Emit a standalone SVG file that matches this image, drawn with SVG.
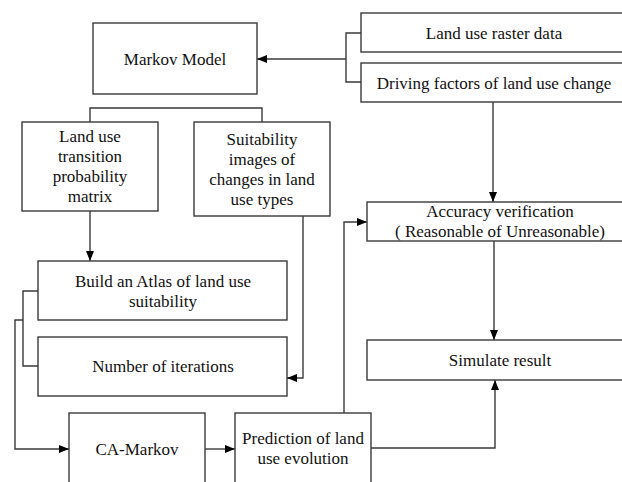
<svg xmlns="http://www.w3.org/2000/svg" width="622" height="482" viewBox="0 0 622 482" font-family="Liberation Serif, Times New Roman, DejaVu Serif, serif">
<style>
text{font-family:'Liberation Serif','Times New Roman','DejaVu Serif',serif;font-size:17px;fill:#111;text-anchor:middle}
.box{fill:#fff;stroke:#3a3a3a;stroke-width:1.4}
.c{fill:none;stroke:#3a3a3a;stroke-width:1.4}
</style>
<defs>
<marker id="ah" viewBox="0 0 10 8" refX="10" refY="4" markerWidth="10" markerHeight="8" markerUnits="userSpaceOnUse" orient="auto">
<path d="M0,0 L10,4 L0,8 Z" fill="#000"/>
</marker>
</defs>
<rect width="622" height="482" fill="#fff"/>
<g id="connectors">
<path class="c" d="M346,59 H257" marker-end="url(#ah)"/>
<path class="c" d="M361,33 H346 V82 H361"/>
<path class="c" d="M90,122 V108 H262 V122"/>
<path class="c" d="M90,211 V261" marker-end="url(#ah)"/>
<path class="c" d="M303,216 V378 H287" marker-end="url(#ah)"/>
<path class="c" d="M38,291 H23 V366 H38"/>
<path class="c" d="M23,320 H15 V449 H69" marker-end="url(#ah)"/>
<path class="c" d="M205,449 H235" marker-end="url(#ah)"/>
<path class="c" d="M344,413 V222 H367" marker-end="url(#ah)"/>
<path class="c" d="M493,102 V202" marker-end="url(#ah)"/>
<path class="c" d="M494,241 V340" marker-end="url(#ah)"/>
<path class="c" d="M371,448 H495 V380" marker-end="url(#ah)"/>
</g>
<g id="markov"><rect class="box" x="93" y="23" width="164" height="71"/><text x="175" y="65">Markov Model</text></g>
<g id="raster"><rect class="box" x="361" y="13" width="270" height="39"/><text x="494" y="39">Land use raster data</text></g>
<g id="driving"><rect class="box" x="361" y="63" width="270" height="39"/><text x="494" y="89">Driving factors of land use change</text></g>
<g id="transition"><rect class="box" x="22" y="122" width="136" height="89"/>
<text x="90" y="142">Land use</text><text x="90" y="162">transition</text><text x="90" y="182">probability</text><text x="90" y="202">matrix</text></g>
<g id="suitability"><rect class="box" x="194" y="122" width="136" height="94"/>
<text x="262" y="145">Suitability</text><text x="262" y="165">images of</text><text x="262" y="185">changes in land</text><text x="262" y="205">use types</text></g>
<g id="atlas"><rect class="box" x="38" y="261" width="249" height="59"/>
<text x="163" y="287">Build an Atlas of land use</text><text x="163" y="307">suitability</text></g>
<g id="iterations"><rect class="box" x="38" y="337" width="249" height="59"/><text x="163" y="372">Number of iterations</text></g>
<g id="camarkov"><rect class="box" x="69" y="413" width="136" height="80"/><text x="137" y="455">CA-Markov</text></g>
<g id="prediction"><rect class="box" x="235" y="413" width="136" height="80"/>
<text x="303" y="444">Prediction of land</text><text x="303" y="464">use evolution</text></g>
<g id="accuracy"><rect class="box" x="367" y="202" width="270" height="39"/>
<text x="500" y="217">Accuracy verification</text><text x="500" y="237">( Reasonable of Unreasonable)</text></g>
<g id="simulate"><rect class="box" x="367" y="340" width="270" height="40"/><text x="500" y="366">Simulate result</text></g>
</svg>
